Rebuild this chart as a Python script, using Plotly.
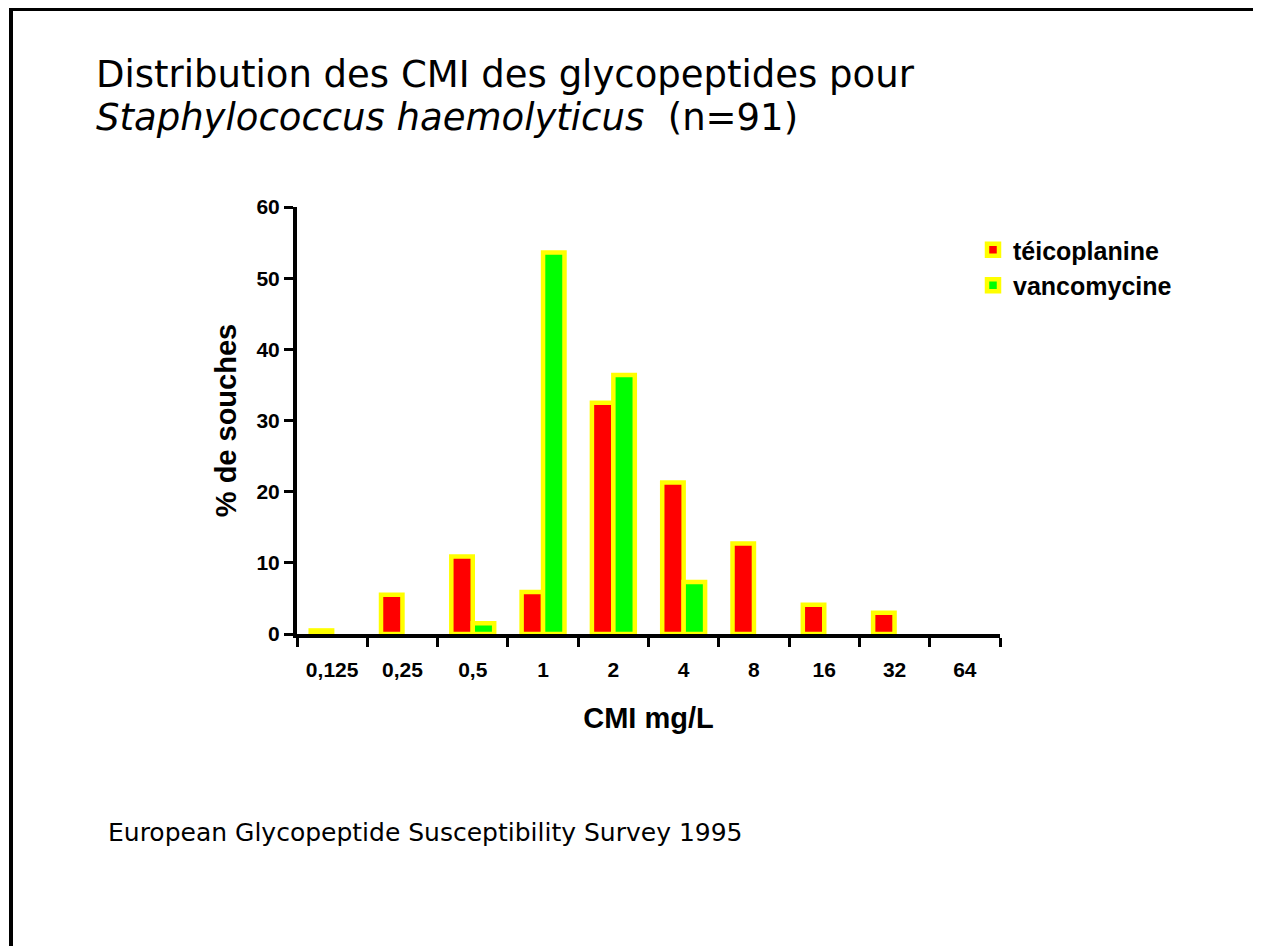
import plotly.graph_objects as go

# ---- data ----
categories = ["0,125", "0,25", "0,5", "1", "2", "4", "8", "16", "32", "64"]
teicoplanine = [0.5, 5.5, 10.9, 5.9, 32.5, 21.3, 12.7, 4.1, 3.0, 0]
vancomycine = [0, 0, 1.5, 53.6, 36.4, 7.3, 0, 0, 0, 0]
y_ticks = [0, 10, 20, 30, 40, 50, 60]

W, H = 1261, 946
OFF = 8  # page body margin
L, R, T, B = 297, 1000, 207, 634  # plot area in screen pixels


def px(x):
    return (x - L) / (R - L)


def py(y):
    return (B - y) / (B - T)


chart_font = "Liberation Sans, Arial, sans-serif"
title_font = "DejaVu Sans, sans-serif"


def nonzero(vals):
    # empty classes are not drawn (no border outline at zero)
    return [v if v > 0 else None for v in vals]


fig = go.Figure()
fig.add_trace(go.Bar(
    x=categories, y=nonzero(teicoplanine), name="téicoplanine",
    marker=dict(color="#FF0000", line=dict(color="#FFFF00", width=4.5)),
    legendgroup="t",
))
fig.add_trace(go.Bar(
    x=categories, y=nonzero(vancomycine), name="vancomycine",
    marker=dict(color="#00FF00", line=dict(color="#FFFF00", width=4.5)),
    legendgroup="v",
))

fig.update_layout(
    width=W, height=H,
    margin=dict(l=L - OFF, r=W - (R - OFF), t=T - OFF, b=H - (B - OFF), pad=0),
    paper_bgcolor="white", plot_bgcolor="white",
    barmode="group", bargap=0.39, bargroupgap=0,
    showlegend=True,
    legend=dict(
        x=px(973), y=py(227), xanchor="left", yanchor="top",
        font=dict(family=chart_font, size=25, color="black", weight="bold"),
        bgcolor="rgba(0,0,0,0)", traceorder="grouped", tracegroupgap=0,
        itemwidth=30,
    ),
    font=dict(family=chart_font, color="black"),
)

fig.update_xaxes(
    type="category", range=[-0.5, 9.5],
    showline=True, linecolor="black", linewidth=4,
    ticks="outside", tickson="boundaries", ticklen=9, tickwidth=3, tickcolor="black",
    tickfont=dict(family=chart_font, size=21, color="black", weight="bold"),
    ticklabelstandoff=14,
    showgrid=False, zeroline=False,
    title=dict(text="CMI mg/L", font=dict(family=chart_font, size=29, color="black", weight="bold"), standoff=28),
)
fig.update_yaxes(
    range=[0, 60], tickvals=y_ticks,
    showline=True, linecolor="black", linewidth=4,
    ticks="outside", ticklen=9, tickwidth=3, tickcolor="black",
    tickfont=dict(family=chart_font, size=21, color="black", weight="bold"),
    showgrid=False, zeroline=False,
    title=dict(text="% de souches", font=dict(family=chart_font, size=29, color="black", weight="bold"), standoff=12),
)

# slide frame (top and left edges)
fig.add_shape(type="line", xref="paper", yref="paper",
              x0=px(11), x1=px(W + 20), y0=py(9.5), y1=py(9.5),
              line=dict(color="black", width=3))
fig.add_shape(type="line", xref="paper", yref="paper",
              x0=px(11), x1=px(11), y0=py(8), y1=py(H + 20),
              line=dict(color="black", width=4))

fig.add_annotation(
    xref="paper", yref="paper", x=px(94), y=py(74), xanchor="left", yanchor="middle",
    align="left", showarrow=False,
    text="Distribution des CMI des glycopeptides pour",
    font=dict(family=title_font, size=37, color="black"),
)
fig.add_annotation(
    xref="paper", yref="paper", x=px(94), y=py(117), xanchor="left", yanchor="middle",
    align="left", showarrow=False,
    text="<i>Staphylococcus haemolyticus</i>  (n=91)",
    font=dict(family=title_font, size=37, color="black"),
)
fig.add_annotation(
    xref="paper", yref="paper", x=px(106), y=py(832), xanchor="left", yanchor="middle",
    showarrow=False,
    text="European Glycopeptide Susceptibility Survey 1995",
    font=dict(family=title_font, size=25, color="black"),
)

fig.write_html("out.html")
